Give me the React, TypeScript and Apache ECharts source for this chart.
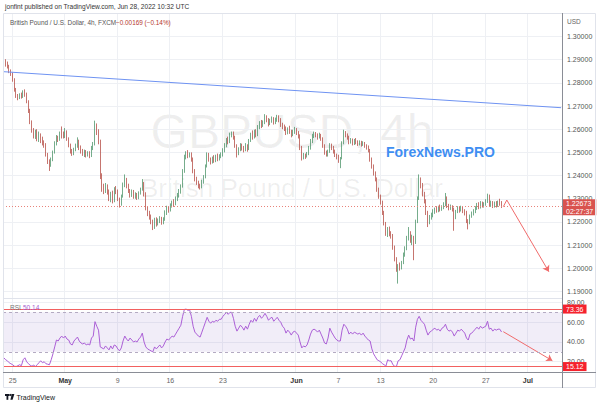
import { useEffect, useRef } from 'react';
import * as echarts from 'echarts';

// [open, close, low, high] per 4h bar, Apr 22 (last bars) .. Jun 28 2022
const candles: number[][] = [
  [1.2960,1.2895,1.2885,1.3030],[1.2895,1.2885,1.2870,1.2902],[1.2885,1.2872,1.2862,1.2892],[1.2872,1.2850,1.2842,1.2878],[1.2850,1.2838,1.2830,1.2858],
  [1.2838,1.2815,1.2805,1.2845],[1.2815,1.2770,1.2762,1.2820],[1.2770,1.2745,1.2735,1.2778],[1.2745,1.2738,1.2725,1.2752],[1.2738,1.2748,1.2730,1.2755],[1.2748,1.2742,1.2732,1.2758],
  [1.2742,1.2760,1.2735,1.2768],[1.2760,1.2752,1.2740,1.2772],[1.2752,1.2720,1.2712,1.2758],[1.2720,1.2680,1.2670,1.2725],[1.2680,1.2630,1.2622,1.2688],[1.2630,1.2595,1.2585,1.2638],
  [1.2595,1.2570,1.2560,1.2605],[1.2570,1.2585,1.2558,1.2598],[1.2585,1.2560,1.2548,1.2600],[1.2560,1.2575,1.2545,1.2590],[1.2575,1.2555,1.2540,1.2582],[1.2555,1.2545,1.2530,1.2568],
  [1.2545,1.2535,1.2520,1.2552],[1.2535,1.2490,1.2482,1.2540],[1.2490,1.2460,1.2450,1.2498],[1.2460,1.2445,1.2420,1.2470],[1.2445,1.2470,1.2438,1.2478],[1.2470,1.2500,1.2462,1.2508],
  [1.2500,1.2540,1.2495,1.2548],[1.2540,1.2565,1.2530,1.2575],[1.2565,1.2555,1.2545,1.2572],[1.2555,1.2580,1.2550,1.2590],[1.2580,1.2575,1.2560,1.2612],[1.2575,1.2570,1.2560,1.2590],
  [1.2570,1.2585,1.2562,1.2605],[1.2585,1.2560,1.2550,1.2595],[1.2560,1.2530,1.2522,1.2565],[1.2530,1.2505,1.2495,1.2538],[1.2505,1.2495,1.2485,1.2515],[1.2495,1.2512,1.2488,1.2520],
  [1.2512,1.2530,1.2505,1.2538],[1.2530,1.2550,1.2520,1.2565],[1.2550,1.2520,1.2510,1.2555],[1.2520,1.2508,1.2495,1.2530],[1.2508,1.2495,1.2485,1.2515],[1.2495,1.2502,1.2480,1.2512],
  [1.2502,1.2490,1.2478,1.2510],[1.2490,1.2498,1.2482,1.2505],[1.2498,1.2485,1.2475,1.2505],[1.2485,1.2520,1.2480,1.2528],[1.2520,1.2535,1.2510,1.2545],[1.2535,1.2615,1.2530,1.2637],
  [1.2615,1.2590,1.2575,1.2625],[1.2590,1.2545,1.2535,1.2600],[1.2545,1.2400,1.2385,1.2555],[1.2400,1.2350,1.2330,1.2410],[1.2350,1.2340,1.2320,1.2365],[1.2340,1.2355,1.2325,1.2368],
  [1.2355,1.2330,1.2318,1.2362],[1.2330,1.2300,1.2290,1.2340],[1.2300,1.2320,1.2285,1.2330],[1.2320,1.2290,1.2280,1.2335],[1.2290,1.2340,1.2285,1.2350],[1.2340,1.2335,1.2320,1.2355],
  [1.2335,1.2300,1.2290,1.2340],[1.2300,1.2280,1.2262,1.2305],[1.2280,1.2310,1.2270,1.2318],[1.2310,1.2360,1.2305,1.2370],[1.2360,1.2380,1.2350,1.2405],[1.2380,1.2355,1.2345,1.2390],
  [1.2355,1.2335,1.2325,1.2365],[1.2335,1.2320,1.2305,1.2342],[1.2320,1.2330,1.2308,1.2340],[1.2330,1.2310,1.2300,1.2338],[1.2310,1.2318,1.2300,1.2328],[1.2318,1.2305,1.2295,1.2325],
  [1.2305,1.2325,1.2298,1.2332],[1.2325,1.2340,1.2318,1.2348],[1.2340,1.2365,1.2335,1.2385],[1.2365,1.2320,1.2310,1.2372],[1.2320,1.2260,1.2250,1.2328],[1.2260,1.2235,1.2225,1.2268],
  [1.2235,1.2225,1.2210,1.2248],[1.2225,1.2200,1.2190,1.2232],[1.2200,1.2185,1.2165,1.2210],[1.2185,1.2210,1.2170,1.2218],[1.2210,1.2195,1.2180,1.2220],[1.2195,1.2205,1.2185,1.2215],
  [1.2205,1.2215,1.2195,1.2225],[1.2215,1.2200,1.2188,1.2222],[1.2200,1.2212,1.2190,1.2220],[1.2212,1.2240,1.2205,1.2250],[1.2240,1.2260,1.2230,1.2270],[1.2260,1.2255,1.2240,1.2268],
  [1.2255,1.2270,1.2245,1.2280],[1.2270,1.2285,1.2262,1.2292],[1.2285,1.2278,1.2265,1.2298],[1.2278,1.2300,1.2272,1.2310],[1.2300,1.2315,1.2290,1.2325],[1.2315,1.2330,1.2305,1.2342],
  [1.2330,1.2355,1.2322,1.2362],[1.2355,1.2420,1.2348,1.2428],[1.2420,1.2480,1.2412,1.2490],[1.2480,1.2495,1.2470,1.2505],[1.2495,1.2485,1.2475,1.2510],[1.2485,1.2492,1.2478,1.2500],
  [1.2492,1.2470,1.2460,1.2500],[1.2470,1.2420,1.2410,1.2478],[1.2420,1.2385,1.2375,1.2428],[1.2385,1.2370,1.2360,1.2395],[1.2370,1.2360,1.2345,1.2378],[1.2360,1.2350,1.2340,1.2365],
  [1.2350,1.2375,1.2345,1.2382],[1.2375,1.2395,1.2365,1.2402],[1.2395,1.2440,1.2388,1.2448],[1.2440,1.2490,1.2435,1.2500],[1.2490,1.2470,1.2460,1.2498],[1.2470,1.2460,1.2448,1.2478],
  [1.2460,1.2475,1.2452,1.2482],[1.2475,1.2465,1.2455,1.2488],[1.2465,1.2480,1.2458,1.2490],[1.2480,1.2470,1.2462,1.2495],[1.2470,1.2485,1.2465,1.2492],[1.2485,1.2490,1.2475,1.2500],
  [1.2490,1.2510,1.2482,1.2518],[1.2510,1.2530,1.2500,1.2540],[1.2530,1.2555,1.2522,1.2562],[1.2555,1.2545,1.2535,1.2568],[1.2545,1.2575,1.2540,1.2585],[1.2575,1.2580,1.2565,1.2590],
  [1.2580,1.2565,1.2555,1.2590],[1.2565,1.2530,1.2520,1.2572],[1.2530,1.2495,1.2478,1.2535],[1.2495,1.2515,1.2488,1.2522],[1.2515,1.2530,1.2505,1.2540],[1.2530,1.2520,1.2508,1.2538],
  [1.2520,1.2510,1.2500,1.2528],[1.2510,1.2530,1.2505,1.2540],[1.2530,1.2515,1.2503,1.2535],[1.2515,1.2550,1.2510,1.2558],[1.2550,1.2575,1.2545,1.2585],[1.2575,1.2565,1.2555,1.2595],
  [1.2565,1.2590,1.2560,1.2598],[1.2590,1.2575,1.2565,1.2600],[1.2575,1.2610,1.2570,1.2618],[1.2610,1.2625,1.2600,1.2635],[1.2625,1.2615,1.2605,1.2640],[1.2615,1.2630,1.2610,1.2638],
  [1.2630,1.2650,1.2622,1.2665],[1.2650,1.2640,1.2630,1.2660],[1.2640,1.2625,1.2612,1.2648],[1.2625,1.2638,1.2618,1.2645],[1.2638,1.2645,1.2628,1.2655],[1.2645,1.2630,1.2620,1.2652],
  [1.2630,1.2640,1.2622,1.2650],[1.2640,1.2655,1.2632,1.2662],[1.2655,1.2640,1.2630,1.2660],[1.2640,1.2620,1.2610,1.2648],[1.2620,1.2612,1.2600,1.2628],[1.2612,1.2605,1.2592,1.2620],
  [1.2605,1.2585,1.2575,1.2612],[1.2585,1.2600,1.2578,1.2608],[1.2600,1.2590,1.2580,1.2615],[1.2590,1.2575,1.2565,1.2598],[1.2575,1.2590,1.2570,1.2598],[1.2590,1.2598,1.2580,1.2610],
  [1.2598,1.2585,1.2575,1.2605],[1.2585,1.2570,1.2560,1.2592],[1.2570,1.2520,1.2510,1.2578],[1.2520,1.2480,1.2465,1.2528],[1.2480,1.2490,1.2470,1.2498],[1.2490,1.2485,1.2472,1.2495],
  [1.2485,1.2495,1.2478,1.2502],[1.2495,1.2520,1.2488,1.2528],[1.2520,1.2550,1.2512,1.2558],[1.2550,1.2570,1.2540,1.2580],[1.2570,1.2580,1.2562,1.2590],[1.2580,1.2575,1.2565,1.2588],
  [1.2575,1.2568,1.2555,1.2582],[1.2568,1.2575,1.2560,1.2585],[1.2575,1.2560,1.2550,1.2580],[1.2560,1.2530,1.2520,1.2565],[1.2530,1.2500,1.2490,1.2535],[1.2500,1.2490,1.2482,1.2508],
  [1.2490,1.2505,1.2482,1.2512],[1.2505,1.2530,1.2498,1.2540],[1.2530,1.2520,1.2510,1.2538],[1.2520,1.2505,1.2495,1.2528],[1.2505,1.2490,1.2480,1.2512],[1.2490,1.2482,1.2470,1.2495],
  [1.2482,1.2465,1.2455,1.2490],[1.2465,1.2475,1.2432,1.2480],[1.2475,1.2540,1.2470,1.2548],[1.2540,1.2585,1.2535,1.2598],[1.2585,1.2575,1.2565,1.2592],[1.2575,1.2565,1.2555,1.2582],
  [1.2565,1.2545,1.2535,1.2572],[1.2545,1.2555,1.2538,1.2562],[1.2555,1.2540,1.2530,1.2560],[1.2540,1.2550,1.2532,1.2558],[1.2550,1.2545,1.2535,1.2562],[1.2545,1.2538,1.2528,1.2552],
  [1.2538,1.2545,1.2530,1.2552],[1.2545,1.2535,1.2525,1.2550],[1.2535,1.2540,1.2528,1.2548],[1.2540,1.2530,1.2520,1.2545],[1.2530,1.2525,1.2512,1.2535],[1.2525,1.2510,1.2500,1.2530],
  [1.2510,1.2470,1.2460,1.2515],[1.2470,1.2440,1.2430,1.2478],[1.2440,1.2410,1.2400,1.2448],[1.2410,1.2385,1.2375,1.2418],[1.2385,1.2340,1.2330,1.2392],[1.2340,1.2310,1.2300,1.2348],
  [1.2310,1.2285,1.2275,1.2318],[1.2285,1.2240,1.2230,1.2292],[1.2240,1.2195,1.2185,1.2248],[1.2195,1.2150,1.2140,1.2200],[1.2150,1.2170,1.2135,1.2178],[1.2170,1.2150,1.2138,1.2180],
  [1.2150,1.2140,1.2128,1.2160],[1.2140,1.2090,1.2080,1.2148],[1.2090,1.2040,1.2030,1.2098],[1.2040,1.2000,1.1985,1.2048],[1.2000,1.2010,1.1934,1.2018],[1.2010,1.2000,1.1990,1.2025],
  [1.2000,1.2025,1.1995,1.2032],[1.2025,1.2060,1.2018,1.2068],[1.2060,1.2085,1.2050,1.2095],[1.2085,1.2130,1.2078,1.2140],[1.2130,1.2150,1.2120,1.2178],[1.2150,1.2120,1.2110,1.2160],
  [1.2120,1.2135,1.2100,1.2145],[1.2135,1.2110,1.2035,1.2140],[1.2110,1.2200,1.2105,1.2210],[1.2200,1.2300,1.2195,1.2310],[1.2300,1.2385,1.2295,1.2405],[1.2385,1.2360,1.2345,1.2392],
  [1.2360,1.2320,1.2310,1.2368],[1.2320,1.2290,1.2280,1.2330],[1.2290,1.2240,1.2230,1.2298],[1.2240,1.2200,1.2178,1.2248],[1.2200,1.2220,1.2190,1.2230],[1.2220,1.2230,1.2210,1.2240],
  [1.2230,1.2245,1.2220,1.2255],[1.2245,1.2255,1.2235,1.2262],[1.2255,1.2250,1.2240,1.2268],[1.2250,1.2262,1.2242,1.2270],[1.2262,1.2255,1.2245,1.2275],[1.2255,1.2265,1.2248,1.2272],
  [1.2265,1.2275,1.2255,1.2285],[1.2275,1.2300,1.2268,1.2325],[1.2300,1.2270,1.2260,1.2310],[1.2270,1.2260,1.2250,1.2278],[1.2260,1.2268,1.2252,1.2275],[1.2268,1.2255,1.2245,1.2272],
  [1.2255,1.2220,1.2162,1.2262],[1.2220,1.2245,1.2212,1.2252],[1.2245,1.2258,1.2238,1.2268],[1.2258,1.2250,1.2240,1.2265],[1.2250,1.2262,1.2245,1.2270],[1.2262,1.2248,1.2238,1.2268],
  [1.2248,1.2240,1.2228,1.2255],[1.2240,1.2205,1.2195,1.2248],[1.2205,1.2195,1.2168,1.2212],[1.2195,1.2225,1.2190,1.2232],[1.2225,1.2235,1.2218,1.2245],[1.2235,1.2245,1.2228,1.2255],
  [1.2245,1.2260,1.2238,1.2268],[1.2260,1.2275,1.2252,1.2282],[1.2275,1.2265,1.2255,1.2285],[1.2265,1.2280,1.2258,1.2290],[1.2280,1.2270,1.2262,1.2288],[1.2270,1.2278,1.2262,1.2285],
  [1.2278,1.2290,1.2270,1.2298],[1.2290,1.2310,1.2282,1.2322],[1.2310,1.2275,1.2265,1.2318],[1.2275,1.2285,1.2265,1.2292],[1.2285,1.2270,1.2260,1.2290],[1.2270,1.2280,1.2262,1.2288],
  [1.2280,1.2272,1.2262,1.2290],[1.2272,1.2285,1.2265,1.2292],[1.2285,1.2284,1.2270,1.2300],[1.2284,1.2267,1.2260,1.2290]
];

const rsi: number[] = [
  24,22,21,19,18,17,15.5,15.2,16,17,
  16,22,24,20,18,16.5,15.5,16.5,15.2,17,
  19,21,19,20,18,17.5,17,22,28,35,
  42,41,44,46,44,46,43,42,38,37,
  41,43,45,41,39,38,39,37,38,37,
  44,46,60.6,56,52,35,34,33,36,34,
  32,36,33,37,36,33,31,34,41,46,
  43,41,44,42,40,41,40,43,45,49,
  40,35,33,32,31,30,35,33,35,37,
  34,36,40,43,42,44,46,45,48,51,
  54,57,66,73,73.36,72,72.5,66,56,50,
  48,46,45,50,55,60,65,61,59,61,
  60,62,61,63,63,66,68,70,68,70,
  70,64,56,51,54,57,55,52,56,53,
  58,62,60,64,61,65,67,64,66,69,
  66,62,64,65,61,63,65,62,60,56,
  54,49,52,50,47,50,51,49,47,40,
  34,36,35,37,42,48,52,53,52,50,
  52,48,44,39,38,44,54,50,47,44,
  42,41,41,52,58,56,53,48,50,48,
  50,49,48,49,47,49,46,44,42,41,
  33,28,25,22,21,20,18,17,15.5,22,
  21,21,17,15.5,15.12,21,22,26,30,34,
  42,47,43,44,41,55,63,66,62,60,
  58,52,47,50,51,53,54,52,53,51,
  54,55,58,53,51,52,50,46,49,52,
  51,53,51,49,44,42,48,49,51,53,
  55,53,56,54,55,56,61,53,54,51,
  53,52,53,53,50.14
];

const categoryCount = 319;
const timeTickIndex = [5, 35, 65, 95, 125, 167, 191, 215, 245, 275, 299];
const timeTickLabels = ['25', 'May', '9', '16', '23', 'Jun', '7', '13', '20', '27', 'Jul'];
const priceTicks = [1.19, 1.2, 1.21, 1.22, 1.23, 1.24, 1.25, 1.26, 1.27, 1.28, 1.29, 1.3];
const rsiTicks = [20, 40, 60, 80];
const lastPrice = 1.22673;
const countdown = '02:27:37';
const rsiHigh = 73.36;
const rsiLow = 15.12;
const rsiBandTop = 70;
const rsiBandBottom = 30;
const rsiLast = 50.14;
const trendLine = [[0, 1.28481], [318, 1.26928]];
const priceArrowUp = [[285, 1.22657], [287, 1.22946]];
const priceArrowDown = [[287, 1.22946], [311, 1.19853]];
const rsiArrow = [[285, 50.43], [313, 21.06]];

const FF = 'Liberation Sans, Arial, sans-serif';
const UP = '#3b8a5a';
const DOWN = '#ae3a30';
const GRID = '#eef0f4';
const AXIS_TXT = '#555';

export default function App() {
  const ref = useRef<HTMLDivElement>(null);
  useEffect(() => {
    const chart = echarts.init(ref.current!, null, { renderer: 'svg' });
    const cats = Array.from({ length: categoryCount }, (_, i) => String(i));
    const labelAt = new Map<number, string>();
    timeTickIndex.forEach((idx, k) => labelAt.set(idx, timeTickLabels[k]));
    const isTick = (idx: number) => labelAt.has(idx);

    const xAxisFor = (gridIndex: number, showLabel: boolean) => ({
      type: 'category',
      gridIndex,
      data: cats,
      boundaryGap: true,
      axisTick: { show: false },
      axisLine: { show: false },
      axisLabel: {
        show: showLabel,
        interval: (idx: number) => isTick(idx),
        formatter: (v: string) => {
          const t = labelAt.get(Number(v)) || '';
          return /^[A-Z]/.test(t) ? '{m|' + t + '}' : t;
        },
        fontSize: 7,
        fontFamily: FF,
        color: '#666',
        margin: 5,
        rich: { m: { fontSize: 7, fontFamily: FF, color: '#333', fontWeight: 'bold' } },
      },
      splitLine: { show: true, interval: (idx: number) => isTick(idx), lineStyle: { color: GRID, width: 1 } },
    });

    const option: any = {
      animation: false,
      backgroundColor: '#fff',
      grid: [
        { left: 3, right: 38, top: 13, height: 285 },
        { left: 3, right: 38, top: 299, height: 73 },
      ],
      xAxis: [xAxisFor(0, false), xAxisFor(1, true)],
      yAxis: [
        {
          type: 'value', gridIndex: 0, position: 'right', min: 1.18719, max: 1.31014,
          axisLine: { show: false },
          axisTick: { show: false, customValues: priceTicks },
          axisLabel: { customValues: priceTicks, formatter: (v: number) => v.toFixed(5), fontSize: 7, fontFamily: FF, color: AXIS_TXT, margin: 5 },
          splitLine: { show: true, lineStyle: { color: GRID, width: 1 } },
        },
        {
          type: 'value', gridIndex: 1, position: 'right', min: 9.62, max: 83.54,
          axisLine: { show: false },
          axisTick: { show: false, customValues: rsiTicks },
          axisLabel: { customValues: rsiTicks, formatter: (v: number) => v.toFixed(2), fontSize: 7, fontFamily: FF, color: AXIS_TXT, margin: 5 },
          splitLine: { show: true, lineStyle: { color: GRID, width: 1 } },
        },
      ],
      series: [
        {
          type: 'candlestick', xAxisIndex: 0, yAxisIndex: 0, data: candles, barWidth: 1.2,
          itemStyle: { color: UP, color0: DOWN, borderColor: UP, borderColor0: DOWN, borderWidth: 0.7 },
          markLine: {
            silent: true, symbol: ['none', 'none'], animation: false, precision: 5,
            data: [{
              yAxis: lastPrice,
              lineStyle: { type: [1, 2], color: '#e8837a', width: 1 },
              label: {
                show: true, position: 'end', distance: 1, verticalAlign: 'middle', align: 'left', offset: [0, 1],
                formatter: lastPrice.toFixed(5) + '\n' + countdown,
                backgroundColor: '#d9534f', color: '#fff', fontSize: 7, fontFamily: FF, lineHeight: 7.5, padding: [0.5, 3],
              },
            }],
          },
        },
        {
          type: 'line', xAxisIndex: 0, yAxisIndex: 0, data: trendLine, showSymbol: false, silent: true,
          lineStyle: { color: '#6f93f2', width: 1 },
        },
        {
          type: 'lines', coordinateSystem: 'cartesian2d', xAxisIndex: 0, yAxisIndex: 0, silent: true,
          symbol: ['none', 'none'], lineStyle: { color: '#f06b6b', width: 1, opacity: 1 },
          data: [{ coords: priceArrowUp }],
        },
        {
          type: 'lines', coordinateSystem: 'cartesian2d', xAxisIndex: 0, yAxisIndex: 0, silent: true,
          symbol: ['none', 'arrow'], symbolSize: 6, lineStyle: { color: '#f06b6b', width: 1, opacity: 1 },
          data: [{ coords: priceArrowDown }],
        },
        {
          type: 'line', xAxisIndex: 1, yAxisIndex: 1, data: rsi, showSymbol: false, silent: true,
          lineStyle: { color: '#ab5fd6', width: 1 },
          markArea: {
            silent: true,
            itemStyle: { color: 'rgba(126,87,194,0.11)' },
            data: [[{ yAxis: rsiBandTop }, { yAxis: rsiBandBottom }]],
          },
          markLine: {
            silent: true, symbol: ['none', 'none'], animation: false, precision: 2,
            data: [
              { yAxis: rsiBandTop, lineStyle: { type: [3, 3], color: '#b4aac2', width: 1 }, label: { show: false } },
              { yAxis: rsiBandBottom, lineStyle: { type: [3, 3], color: '#b4aac2', width: 1 }, label: { show: false } },
              {
                yAxis: rsiHigh, lineStyle: { type: 'solid', color: '#f26060', width: 1 },
                label: { show: true, position: 'end', distance: 1, verticalAlign: 'middle', align: 'left', formatter: rsiHigh.toFixed(2), backgroundColor: '#f5222d', color: '#fff', fontSize: 7, fontFamily: FF, padding: [1, 3] },
              },
              {
                yAxis: rsiLow, lineStyle: { type: 'solid', color: '#f26060', width: 1 },
                label: { show: true, position: 'end', distance: 1, verticalAlign: 'middle', align: 'left', formatter: rsiLow.toFixed(2), backgroundColor: '#f5222d', color: '#fff', fontSize: 7, fontFamily: FF, padding: [1, 3] },
              },
            ],
          },
        },
        {
          type: 'lines', coordinateSystem: 'cartesian2d', xAxisIndex: 1, yAxisIndex: 1, silent: true,
          symbol: ['none', 'arrow'], symbolSize: 6, lineStyle: { color: '#f06b6b', width: 1, opacity: 1 },
          data: [{ coords: rsiArrow }],
        },
      ],
      graphic: [
        // watermark
        { type: 'text', z: -10, silent: true, style: { text: 'GBPUSD, 4h', x: 292, y: 131, textAlign: 'center', textVerticalAlign: 'middle', fontSize: 48, fontFamily: FF, fill: 'rgba(80,80,80,0.09)' } },
        { type: 'text', z: -10, silent: true, style: { text: 'British Pound / U.S. Dollar', x: 292, y: 188, textAlign: 'center', textVerticalAlign: 'middle', fontSize: 26, fontFamily: FF, fill: 'rgba(80,80,80,0.09)' } },
        { type: 'text', z: 10, silent: true, style: { text: 'ForexNews.PRO', x: 386, y: 152, textAlign: 'left', textVerticalAlign: 'middle', fontSize: 14, fontWeight: 'bold', fontFamily: FF, fill: '#3f8ef2' } },
        // frame and separators
        { type: 'rect', z: 20, silent: true, shape: { x: 3.5, y: 13.5, width: 592, height: 374 }, style: { fill: 'none', stroke: '#e0e3eb', lineWidth: 1 } },
        { type: 'line', z: 20, silent: true, shape: { x1: 3, y1: 298.5, x2: 562, y2: 298.5 }, style: { stroke: '#e0e3eb', lineWidth: 1 } },
        { type: 'line', z: 20, silent: true, shape: { x1: 3, y1: 372.5, x2: 596, y2: 372.5 }, style: { stroke: '#8a8d96', lineWidth: 1 } },
        { type: 'line', z: 20, silent: true, shape: { x1: 562.5, y1: 13, x2: 562.5, y2: 388 }, style: { stroke: '#8a8d96', lineWidth: 1 } },
        // header texts
        { type: 'text', z: 10, silent: true, style: { text: 'jonfint published on TradingView.com, Jun 28, 2022 10:32 UTC', x: 5, y: 6.5, textVerticalAlign: 'middle', fontSize: 6.6, fontFamily: FF, fill: '#333' } },
        { type: 'text', z: 10, silent: true, style: { text: 'British Pound / U.S. Dollar, 4h, FXCM', x: 10, y: 22.5, textVerticalAlign: 'middle', fontSize: 6.4, fontFamily: FF, fill: '#555' } },
        { type: 'text', z: 10, silent: true, style: { text: '\u22120.00169 (\u22120.14%)', x: 116, y: 22.5, textVerticalAlign: 'middle', fontSize: 6.4, fontFamily: FF, fill: '#b5372d' } },
        { type: 'text', z: 10, silent: true, style: { text: 'USD', x: 567, y: 21.5, textVerticalAlign: 'middle', fontSize: 6.5, fontFamily: FF, fill: '#666' } },
        // RSI legend
        { type: 'text', z: 10, silent: true, style: { text: 'RSI', x: 10, y: 307.5, textVerticalAlign: 'middle', fontSize: 6.5, fontFamily: FF, fill: '#777' } },
        { type: 'text', z: 10, silent: true, style: { text: rsiLast.toFixed(2), x: 23, y: 307.5, textVerticalAlign: 'middle', fontSize: 6.5, fontFamily: FF, fill: '#a55bd0' } },
        // TradingView logo
        { type: 'rect', z: 10, silent: true, shape: { x: 5, y: 394, width: 4.6, height: 1.9 }, style: { fill: '#131722' } },
        { type: 'rect', z: 10, silent: true, shape: { x: 6.5, y: 394, width: 1.8, height: 5.8 }, style: { fill: '#131722' } },
        { type: 'circle', z: 10, silent: true, shape: { cx: 10.6, cy: 395, r: 1 }, style: { fill: '#131722' } },
        { type: 'polygon', z: 10, silent: true, shape: { points: [[11.8, 394], [14.4, 394], [12.6, 399.8], [10.4, 399.8]] }, style: { fill: '#131722' } },
        { type: 'text', z: 10, silent: true, style: { text: 'TradingView', x: 16.5, y: 397, textVerticalAlign: 'middle', fontSize: 7, fontFamily: FF, fill: '#131722' } },
      ],
    };
    chart.setOption(option);
    return () => chart.dispose();
  }, []);
  return <div ref={ref} style={{ position: 'fixed', left: 0, top: 0, width: 600, height: 406, background: '#fff' }} />;
}
